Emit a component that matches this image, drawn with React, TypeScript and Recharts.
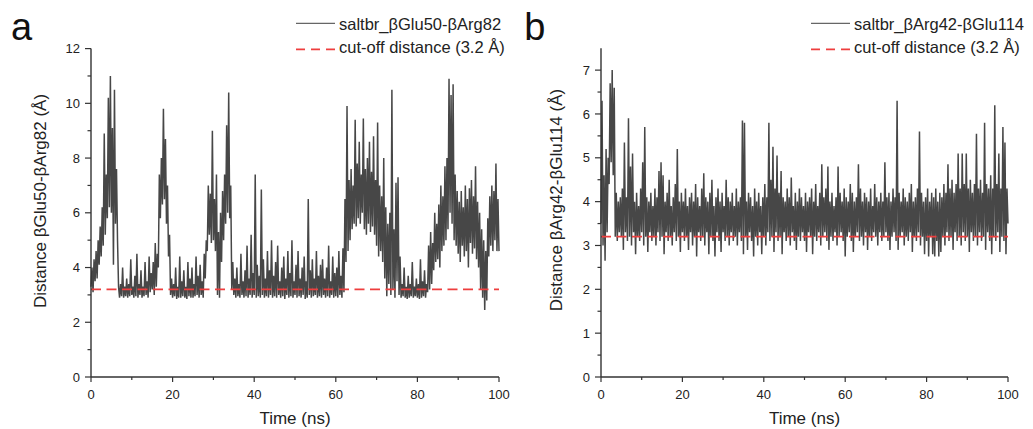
import React from "react";
import { LineChart, Line, XAxis, YAxis, ReferenceLine, Legend } from "recharts";

// sampling step of the trajectory traces (ns)
const STEP_NS = 0.25;
const CUTOFF = 3.2;

const timeTicks = [0, 10, 20, 30, 40, 50, 60, 70, 80, 90, 100];
const timeLabels = [0, 20, 40, 60, 80, 100];
const yTicksA = [0, 1, 2, 3, 4, 5, 6, 7, 8, 9, 10, 11, 12];
const yLabelsA = [0, 2, 4, 6, 8, 10, 12];
const yTicksB = [0, 0.5, 1, 1.5, 2, 2.5, 3, 3.5, 4, 4.5, 5, 5.5, 6, 6.5, 7];
const yLabelsB = [0, 1, 2, 3, 4, 5, 6, 7];

const nameA = "saltbr_βGlu50-βArg82";
const nameB = "saltbr_βArg42-βGlu114";
const cutoffName = "cut-off distance (3.2 Å)";

// βGlu50-βArg82 distance (Å), one value per 0.25 ns
const distA = [
  3.3, 4.0, 3.1, 4.3, 3.5, 4.6, 3.6, 5.0, 4.1, 5.5, 4.4, 6.2, 4.8, 8.9, 5.2, 7.4, 5.8, 10.2, 6.2, 11.0,
  6.0, 9.1, 4.1, 10.5, 5.6, 7.6, 5.0, 3.3, 2.9, 3.4, 2.95, 4.0, 2.9, 3.3, 2.95, 3.6, 2.9, 3.4, 2.95, 4.3,
  3.0, 3.3, 2.9, 3.7, 2.95, 4.5, 2.9, 3.4, 3.0, 3.9, 2.9, 3.3, 2.95, 4.2, 3.0, 3.5, 2.9, 4.4, 3.1, 3.8,
  3.2, 4.2, 3.0, 4.9, 3.3, 4.5, 4.0, 7.4, 5.8, 8.0, 6.3, 9.8, 6.5, 8.7, 5.6, 7.0, 4.4, 5.2, 3.0, 3.6,
  2.9, 3.4, 2.95, 4.0, 2.85, 3.3, 2.9, 4.4, 2.9, 3.5, 2.95, 3.9, 2.9, 3.3, 2.85, 4.2, 2.95, 3.6, 2.9, 4.0,
  2.9, 3.4, 2.95, 4.4, 3.0, 3.7, 2.9, 4.1, 3.0, 3.5, 2.9, 4.5, 3.6, 5.0, 4.6, 7.0, 5.2, 6.7, 4.9, 9.0,
  5.0, 6.5, 4.6, 7.4, 3.0, 5.3, 2.9, 6.0, 4.2, 6.8, 5.0, 7.4, 5.6, 9.2, 6.0, 10.4, 5.8, 7.0, 3.2, 4.2,
  3.0, 3.6, 2.9, 4.0, 2.95, 3.4, 2.9, 4.5, 3.0, 3.5, 2.9, 3.9, 2.95, 4.8, 2.9, 3.6, 3.0, 5.2, 2.9, 3.8,
  3.0, 7.4, 2.9, 4.1, 2.95, 3.7, 2.9, 6.85, 3.0, 4.3, 2.9, 3.6, 2.95, 4.6, 2.9, 3.9, 3.0, 5.0, 2.9, 3.7,
  2.95, 4.2, 2.9, 4.8, 3.0, 3.5, 2.9, 4.0, 2.95, 4.4, 2.85, 3.6, 3.0, 4.6, 2.9, 3.8, 2.95, 5.0, 2.9, 3.5,
  3.0, 4.1, 2.9, 4.6, 2.95, 3.6, 2.9, 4.0, 3.0, 4.4, 2.85, 3.5, 2.9, 6.5, 3.0, 3.9, 2.9, 4.3, 2.95, 3.6,
  3.0, 4.6, 2.9, 3.7, 2.95, 4.1, 2.9, 4.3, 3.0, 3.6, 2.9, 4.0, 2.95, 4.8, 2.9, 3.5, 3.0, 4.4, 2.9, 3.8,
  2.95, 4.0, 2.9, 4.6, 3.0, 3.7, 2.9, 4.7, 3.1, 6.5, 4.2, 9.9, 4.6, 7.2, 5.0, 7.6, 5.4, 7.0, 5.6, 9.4,
  5.5, 7.8, 5.8, 8.6, 5.6, 7.4, 6.0, 9.45, 5.4, 7.6, 5.2, 8.0, 5.6, 8.6, 5.3, 7.5, 5.5, 8.8, 5.2, 7.2,
  4.8, 9.3, 4.4, 7.0, 4.6, 6.6, 4.2, 8.0, 3.6, 6.2, 2.95, 5.6, 3.4, 6.0, 3.0, 10.5, 3.2, 5.4, 2.9, 7.1,
  3.5, 7.3, 3.0, 4.4, 2.9, 3.4, 2.95, 4.0, 2.9, 3.3, 2.85, 3.7, 2.9, 3.4, 2.95, 4.2, 2.9, 3.3, 2.95, 3.6,
  2.9, 3.4, 2.85, 4.3, 2.9, 3.5, 2.95, 3.9, 2.9, 3.4, 3.1, 4.8, 3.2, 5.3, 3.4, 4.9, 3.9, 6.0, 4.2, 5.6,
  4.3, 6.3, 4.0, 7.0, 4.6, 6.6, 4.8, 7.7, 5.0, 8.0, 5.4, 10.9, 6.0, 10.3, 5.6, 10.7, 5.0, 7.4, 4.8, 6.8,
  4.5, 6.4, 4.2, 6.8, 4.8, 6.2, 4.4, 7.0, 4.6, 6.5, 4.0, 6.9, 4.9, 7.2, 4.5, 6.6, 4.7, 7.7, 4.3, 6.4,
  4.0, 6.0, 3.2, 5.4, 2.9, 5.0, 2.45, 4.6, 2.8, 5.8, 4.4, 6.6, 4.8, 7.0, 4.6, 6.8, 5.0, 7.8, 4.6, 6.5,
  4.6,
];

// βArg42-βGlu114 distance (Å), one value per 0.25 ns
const distB = [
  3.5, 6.3, 3.0, 4.6, 2.65, 5.2, 3.3, 5.0, 4.4, 6.7, 4.9, 7.0, 4.6, 6.6, 3.2, 4.2, 3.1, 4.0, 3.3, 4.1,
  3.2, 4.3, 2.9, 5.35, 3.3, 4.1, 3.1, 5.9, 3.2, 4.8, 3.0, 5.1, 3.3, 4.0, 2.8, 4.2, 3.2, 3.9, 3.1, 4.3,
  3.3, 4.9, 3.0, 5.7, 3.2, 4.1, 2.85, 4.0, 3.3, 4.2, 3.1, 3.9, 3.2, 4.3, 3.0, 4.1, 3.3, 4.7, 3.1, 4.9,
  3.2, 4.6, 2.8, 4.0, 3.3, 4.2, 3.1, 4.5, 3.2, 3.9, 3.0, 4.1, 3.3, 4.4, 3.1, 5.2, 3.2, 4.0, 2.85, 4.2,
  3.3, 4.0, 3.1, 4.3, 3.2, 3.9, 2.9, 4.1, 3.3, 4.2, 3.0, 4.0, 3.2, 4.4, 2.75, 4.1, 3.3, 3.9, 3.1, 4.3,
  3.2, 4.65, 3.0, 4.1, 3.3, 4.0, 2.8, 4.2, 3.2, 4.5, 3.1, 3.9, 2.75, 4.1, 3.3, 4.3, 3.1, 4.0, 2.85, 4.2,
  3.3, 3.9, 3.1, 4.5, 3.2, 4.1, 3.0, 4.0, 3.3, 4.2, 3.1, 3.9, 3.2, 4.3, 3.0, 4.0, 3.3, 4.1, 3.1, 5.85,
  2.8, 5.8, 3.2, 4.0, 2.9, 4.2, 3.3, 4.1, 3.1, 3.9, 2.75, 4.3, 3.2, 4.0, 3.0, 4.2, 3.3, 3.9, 2.8, 4.1,
  3.2, 4.4, 3.0, 4.1, 3.3, 5.8, 3.1, 4.5, 3.2, 5.25, 2.85, 4.3, 3.3, 5.05, 3.1, 4.2, 3.2, 4.7, 2.8, 4.1,
  3.3, 4.0, 3.1, 4.3, 3.2, 4.1, 3.0, 4.55, 3.3, 3.9, 3.1, 4.2, 2.9, 4.0, 3.2, 4.3, 3.1, 4.1, 3.3, 3.9,
  3.1, 4.2, 2.85, 4.0, 3.3, 4.1, 3.2, 4.3, 2.8, 4.0, 3.2, 4.4, 3.1, 3.9, 3.3, 4.2, 3.0, 4.85, 3.2, 4.1,
  3.3, 4.3, 3.1, 4.8, 2.9, 4.0, 3.2, 4.2, 3.1, 3.9, 3.3, 4.1, 3.0, 4.8, 3.2, 4.2, 3.3, 4.0, 3.1, 4.3,
  2.75, 4.1, 3.2, 4.0, 3.3, 4.4, 3.1, 4.2, 2.85, 4.0, 3.2, 4.1, 3.3, 4.85, 3.1, 4.3, 3.2, 4.0, 3.0, 4.2,
  3.3, 4.1, 2.9, 4.0, 3.2, 4.3, 3.1, 3.9, 3.3, 4.4, 3.2, 4.1, 3.0, 4.0, 3.3, 4.2, 3.1, 4.0, 3.2, 4.9,
  3.3, 4.1, 3.1, 4.2, 2.9, 4.0, 3.2, 4.3, 3.3, 4.1, 3.1, 6.3, 2.9, 4.2, 3.2, 4.0, 3.3, 4.3, 3.0, 4.1,
  3.2, 4.0, 3.1, 4.2, 3.3, 4.4, 2.85, 4.0, 3.2, 4.1, 3.1, 4.3, 3.3, 5.6, 3.0, 4.2, 3.2, 4.0, 2.8, 4.1,
  3.1, 4.3, 2.75, 4.0, 3.2, 4.2, 2.8, 4.1, 2.75, 4.3, 3.1, 4.0, 2.75, 4.2, 2.85, 4.1, 3.2, 4.4, 3.0, 4.2,
  3.3, 4.85, 3.1, 4.3, 3.2, 4.5, 2.9, 4.2, 3.3, 4.4, 3.1, 5.1, 3.2, 4.3, 3.0, 5.1, 3.3, 4.4, 3.1, 5.1,
  3.2, 4.3, 2.85, 4.5, 3.3, 4.2, 3.1, 4.4, 3.2, 5.55, 3.0, 4.3, 3.3, 4.5, 3.1, 4.2, 3.2, 5.8, 2.9, 4.4,
  3.3, 4.3, 3.1, 4.6, 2.8, 4.3, 3.2, 6.2, 3.1, 4.4, 3.3, 5.1, 2.85, 4.3, 3.2, 5.7, 3.1, 5.35, 2.8, 4.3,
  3.5,
];

const FONT = '"Liberation Sans", Arial, Helvetica, sans-serif';
const AXIS = "#333";
const INK = "#222";
const TRACE = "#474747";
const RED = "#ee3e3e";

function XTick(p: any) {
  const v = p.payload.value;
  const major = timeLabels.includes(v);
  return (
    <g>
      <line x1={p.x} x2={p.x} y1={p.y} y2={p.y + (major ? 5 : 3)} stroke={AXIS} strokeWidth={1.2} />
      {major && (
        <text x={p.x} y={p.y + 21.5} textAnchor="middle" fontSize={13} fill={INK} fontFamily={FONT}>
          {v}
        </text>
      )}
    </g>
  );
}

function makeYTick(labels: number[]) {
  return function YTick(p: any) {
    const v = p.payload.value;
    const major = labels.includes(v);
    return (
      <g>
        <line x1={p.x - (major ? 6 : 3.5)} x2={p.x} y1={p.y} y2={p.y} stroke={AXIS} strokeWidth={1.2} />
        {major && (
          <text x={p.x - 11} y={p.y + 4.6} textAnchor="end" fontSize={13} fill={INK} fontFamily={FONT}>
            {v}
          </text>
        )}
      </g>
    );
  };
}

type PanelProps = {
  letter: string;
  values: number[];
  name: string;
  yLabel: string;
  yMax: number;
  yTicks: number[];
  yLabels: number[];
  left: number;
  width: number;
  yAxisWidth: number;
  top: number;
  right: number;
  letterX: number;
  yTitleX: number;
  yTitleY: number;
};

function Panel(props: PanelProps) {
  const { letter, values, name, yLabel, yMax, yTicks, yLabels, left, width, yAxisWidth, top, right } = props;
  const rows = values.map((d, i) => ({ t: i * STEP_NS, d }));
  const plotLeft = yAxisWidth;
  const plotRight = width - right;
  const midX = (plotLeft + plotRight) / 2;

  const legend = () => (
    <svg width={width} height={60} style={{ display: "block" }}>
      <line x1={296} x2={335} y1={23.3} y2={23.3} stroke="#666" strokeWidth={1.2} />
      <text x={339} y={29.5} fontSize={16.5} fill={INK} fontFamily={FONT}>{name}</text>
      <line x1={296} x2={335} y1={49.3} y2={49.3} stroke={RED} strokeWidth={1.8} strokeDasharray="9 6" />
      <text x={339} y={52.5} fontSize={16.5} fill={INK} fontFamily={FONT}>{cutoffName}</text>
    </svg>
  );

  return (
    <div style={{ position: "absolute", left, top: 0, width, height: 429 }}>
      <LineChart width={width} height={429} data={rows} margin={{ top, right, bottom: 0, left: 0 }}>
        <XAxis
          dataKey="t"
          type="number"
          domain={[0, 100]}
          ticks={timeTicks}
          interval={0}
          height={52}
          tickSize={0}
          tickMargin={0}
          tickLine={false}
          axisLine={{ stroke: AXIS, strokeWidth: 1.4 }}
          tick={XTick}
          label={() => (
            <text x={midX} y={424} textAnchor="middle" fontSize={17} fill={INK} fontFamily={FONT}>
              Time (ns)
            </text>
          )}
        />
        <YAxis
          type="number"
          domain={[0, yMax]}
          ticks={yTicks}
          interval={0}
          width={yAxisWidth}
          tickSize={0}
          tickMargin={0}
          tickLine={false}
          allowDataOverflow
          axisLine={{ stroke: AXIS, strokeWidth: 1.4 }}
          tick={makeYTick(yLabels)}
          label={() => (
            <text
              x={props.yTitleX}
              y={props.yTitleY}
              transform={`rotate(-90 ${props.yTitleX} ${props.yTitleY})`}
              textAnchor="middle"
              fontSize={17}
              fill={INK}
              fontFamily={FONT}
            >
              {yLabel}
            </text>
          )}
        />
        <Legend
          layout="horizontal"
          verticalAlign="middle"
          align="center"
          width={width}
          height={60}
          wrapperStyle={{ top: 0, left: 0, width, height: 60 }}
          content={legend}
        />
        <Line
          type="linear"
          dataKey="d"
          name={name}
          stroke={TRACE}
          strokeWidth={1.5}
          strokeLinejoin="miter"
          dot={false}
          activeDot={false}
          isAnimationActive={false}
        />
        <ReferenceLine y={CUTOFF} stroke={RED} strokeWidth={1.8} strokeDasharray="10 5.5" />
      </LineChart>
      <svg width={60} height={50} style={{ position: "absolute", left: 0, top: 0 }}>
        <text x={props.letterX} y={40} fontSize={38} fill="#111" fontFamily={FONT}>
          {letter}
        </text>
      </svg>
    </div>
  );
}

export default function App() {
  return (
    <div
      style={{
        position: "absolute",
        left: 0,
        top: 0,
        width: 1033,
        height: 429,
        background: "#fff",
        overflow: "hidden",
        fontFamily: FONT,
      }}
    >
      <Panel
        letter="a"
        values={distA}
        name={nameA}
        yLabel="Distance βGlu50-βArg82 (Å)"
        yMax={12}
        yTicks={yTicksA}
        yLabels={yLabelsA}
        left={0}
        width={520}
        yAxisWidth={91}
        top={48.6}
        right={21}
        letterX={11}
        yTitleX={45.5}
        yTitleY={201}
      />
      <Panel
        letter="b"
        values={distB}
        name={nameB}
        yLabel="Distance βArg42-βGlu114 (Å)"
        yMax={7.5}
        yTicks={yTicksB}
        yLabels={yLabelsB}
        left={515}
        width={518}
        yAxisWidth={86}
        top={48.2}
        right={25}
        letterX={9.2}
        yTitleX={46.5}
        yTitleY={200}
      />
    </div>
  );
}
